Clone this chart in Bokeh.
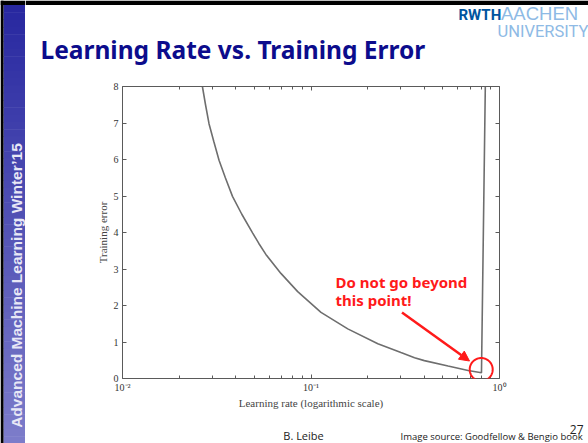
import numpy as np
from bokeh.plotting import figure
from bokeh.layouts import row, column
from bokeh.core.properties import value
from bokeh.models import (Label, Arrow, NormalHead, PolyAnnotation,
                          FixedTicker, LinearAxis, LogAxis, Range1d, CustomJSTickFormatter)
from bokeh.embed import file_html
from bokeh.resources import INLINE

# ---- data ----
learning_rate = [0.02654, 0.02757, 0.02877, 0.03048, 0.03252, 0.03513, 0.03833,
                 0.04295, 0.04897, 0.05288, 0.05762, 0.06925, 0.0850, 0.1130,
                 0.1567, 0.2263, 0.3000, 0.3543, 0.3993, 0.5334, 0.6817, 0.8024, 0.8424]
training_error = [8.0, 7.5, 6.98, 6.5, 5.98, 5.5, 4.99,
                  4.5, 3.99, 3.7, 3.40, 2.88, 2.38, 1.81,
                  1.36, 0.95, 0.71, 0.57, 0.49, 0.34, 0.22, 0.156, 8.3]
x_major_ticks = [0.01, 0.1, 1.0]
x_minor_ticks = [0.02, 0.03, 0.04, 0.05, 0.06, 0.07, 0.08, 0.09,
                 0.2, 0.3, 0.4, 0.5, 0.6, 0.7, 0.8, 0.9]
x_tick_labels = ["10\u207b\u00b2", "10\u207b\u00b9", "10\u2070"]
y_ticks = [0, 1, 2, 3, 4, 5, 6, 7, 8]

# ---- page geometry (pixels of the 588x443 slide) ----
PW, PH = 588, 443
SB = 25                 # sidebar width
HD = 70                 # header height
FT_H = 28               # footer height
CH = PH - HD - FT_H     # chart figure height
FL, FR, FT, FB = 122, 499, 86, 378   # plot frame edges on the page
BASE_FIX = 0.38         # baseline correction (fraction of font size)


def deco_fig(w, h, x0, x1, y0, y1):
    f = figure(width=w, height=h, x_range=Range1d(x0, x1), y_range=Range1d(y1, y0),
               output_backend="svg", toolbar_location=None,
               x_axis_location=None, y_axis_location=None, min_border=0,
               frame_align=False)
    f.xgrid.visible = False
    f.ygrid.visible = False
    f.outline_line_color = None
    f.background_fill_color = "white"
    f.border_fill_color = "white"
    return f


def put(f, x, y, txt, size, font, color, bold=False, align="left"):
    f.text(x=[x], y=[y - BASE_FIX * size], text=[txt], text_baseline="alphabetic",
           text_align=align, text_font=value(font),
           text_font_style="bold" if bold else "normal",
           text_font_size="%gpx" % size, text_color=color)


# ---- sidebar ----
side = deco_fig(SB, PH, 0, SB, 0, PH)
c0 = np.array([0x28, 0x28, 0xa0])
c1 = np.array([0x7c, 0x7c, 0xca])
nb = 60
edges = np.linspace(4.5, PH, nb + 1)
cols = []
for i in range(nb):
    t = i / (nb - 1)
    c = (c0 + (c1 - c0) * t).round().astype(int)
    cols.append("#%02x%02x%02x" % tuple(c))
side.quad(left=3, right=24.5, top=list(edges[:-1]), bottom=list(edges[1:] + 0.5),
          fill_color=cols, line_color=None)
side.quad(left=0, right=3, top=0, bottom=PH, fill_color="black", line_color=None)
side.quad(left=0, right=SB, top=0, bottom=4.5, fill_color="black", line_color=None)
side.text(x=[15.5], y=[285], text=["Advanced Machine Learning Winter\u201915"],
          angle=np.pi / 2, text_align="center", text_baseline="middle",
          text_font=value("Liberation Sans"), text_font_style="bold",
          text_font_size="15.5px", text_color="#e8e8f6")

# ---- header ----
head = deco_fig(PW - SB, HD, SB, PW, 0, HD)
head.quad(left=SB, right=PW, top=0, bottom=4.5, fill_color="black", line_color=None)
put(head, 40, 58, "Learning Rate vs. Training Error", 24.5, "Noto Sans", "#0c0c8c", bold=True)
put(head, 458, 20, "RWTH", 15, "Roboto", "#00549f", bold=True)
put(head, 500.5, 20, "AACHEN", 18.5, "Liberation Sans", "#8ebae5")
put(head, 497, 37, "UNIVERSITY", 16.5, "Roboto", "#8ebae5")

# ---- footer ----
foot = deco_fig(PW - SB, FT_H, SB, PW, PH - FT_H, PH)
put(foot, 303, 439.5, "B. Leibe", 11, "Open Sans", "#222222", align="center")
put(foot, 583, 433.5, "27", 12, "Open Sans", "#222222", align="right")
put(foot, 400, 440, "Image source: Goodfellow & Bengio book", 9.5, "Open Sans", "#222222")

# ---- chart ----
p = figure(width=PW - SB, height=CH, x_axis_type="log",
           x_range=Range1d(0.01, 1.0), y_range=Range1d(0, 8),
           output_backend="svg", toolbar_location=None, frame_align=False,
           min_border_left=FL - SB, min_border_right=PW - FR,
           min_border_top=FT - HD, min_border_bottom=(HD + CH) - FB)
p.background_fill_color = "white"
p.border_fill_color = "white"
p.outline_line_color = None
p.xgrid.visible = False
p.ygrid.visible = False

p.line(learning_rate, training_error, line_color="#6e6e6e", line_width=1.6)

AX = "#5a5a5a"
SERIF = "Liberation Serif"

xfmt = CustomJSTickFormatter(args=dict(major=x_major_ticks, labs=x_tick_labels), code="""
for (let i = 0; i < major.length; i++) {
  if (Math.abs(Math.log10(tick) - Math.log10(major[i])) < 1e-6) return labs[i];
}
return "";
""")


def style(ax, ticker, minor_in):
    ax.ticker = ticker
    ax.axis_line_color = AX
    ax.major_tick_line_color = AX
    ax.minor_tick_line_color = AX
    ax.major_tick_in = 4
    ax.major_tick_out = 0
    ax.minor_tick_in = minor_in
    ax.minor_tick_out = 0
    ax.major_label_text_font = SERIF
    ax.major_label_text_font_size = "10px"
    ax.major_label_text_color = "#333333"


xb = p.xaxis[0]
style(xb, FixedTicker(ticks=x_major_ticks, minor_ticks=x_minor_ticks), 3)
xb.formatter = xfmt
xb.major_label_standoff = 3
xb.axis_label = "Learning rate (logarithmic scale)"
xb.axis_label_text_font = SERIF
xb.axis_label_text_font_style = "normal"
xb.axis_label_text_font_size = "11px"
xb.axis_label_text_color = "#444444"
xb.axis_label_standoff = 1

yl = p.yaxis[0]
style(yl, FixedTicker(ticks=y_ticks, minor_ticks=[]), 0)
yl.major_label_standoff = 4
yl.axis_label = "Training error"
yl.axis_label_text_font = SERIF
yl.axis_label_text_font_style = "normal"
yl.axis_label_text_font_size = "11px"
yl.axis_label_text_color = "#444444"
yl.axis_label_standoff = 2

xa = LogAxis()
style(xa, FixedTicker(ticks=x_major_ticks, minor_ticks=x_minor_ticks), 3)
xa.major_label_text_font_size = "0px"
xa.major_label_standoff = 0
xa.formatter = CustomJSTickFormatter(code="return '';")
p.add_layout(xa, "above")

yr = LinearAxis()
style(yr, FixedTicker(ticks=y_ticks, minor_ticks=[]), 0)
yr.major_label_text_font_size = "0px"
yr.major_label_standoff = 0
yr.formatter = CustomJSTickFormatter(code="return '';")
p.add_layout(yr, "right")


def sx(px):
    return px - FL


def sy(py):
    return FB - py


RED = "#ff1a1a"
for txt, base in (("Do not go beyond", 287), ("this point!", 305)):
    p.add_layout(Label(x=sx(335), y=sy(base) + BASE_FIX * 15, x_units="screen", y_units="screen",
                       text=txt, text_baseline="alphabetic",
                       text_font="Noto Sans", text_font_style="bold",
                       text_font_size="15px", text_color=RED))
p.add_layout(Arrow(x_start=sx(401.5), y_start=sy(312), x_end=sx(469), y_end=sy(360.5),
                   start_units="screen", end_units="screen",
                   line_color=RED, line_width=2.5,
                   end=NormalHead(size=10, fill_color=RED, line_color=RED)))
theta = np.linspace(0, 2 * np.pi, 73)
p.add_layout(PolyAnnotation(xs=list(sx(480.7) + 11.5 * np.cos(theta)),
                            ys=list(sy(369) + 11.5 * np.sin(theta)),
                            xs_units="screen", ys_units="screen",
                            fill_alpha=0, line_color=RED, line_alpha=1.0, line_width=2))

layout = row(side, column(head, p, foot, spacing=0), spacing=0)
open("out.html", "w").write(file_html(layout, INLINE))
